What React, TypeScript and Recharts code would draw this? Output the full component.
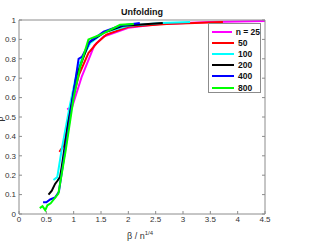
import { LineChart, Line, XAxis, YAxis } from "recharts";

// each series: [beta / n^(1/4), probability]
const n25: [number, number][] = [
  [0.88, 0.54], [0.97, 0.55], [1.15, 0.71], [1.38, 0.87], [1.55, 0.915],
  [2.0, 0.96], [2.6, 0.98], [3.5, 0.99], [4.5, 0.995],
];
const n50: [number, number][] = [
  [0.74, 0.32], [0.81, 0.35], [0.96, 0.57], [1.1, 0.72], [1.27, 0.83],
  [1.42, 0.88], [1.6, 0.925], [2.0, 0.965], [2.7, 0.98], [3.73, 0.99],
];
const n100: [number, number][] = [
  [0.63, 0.175], [0.7, 0.19], [0.78, 0.33], [0.93, 0.56], [1.08, 0.76],
  [1.3, 0.88], [1.55, 0.935], [2.0, 0.97], [2.6, 0.985], [3.13, 0.99],
];
const n200: [number, number][] = [
  [0.54, 0.1], [0.6, 0.12], [0.66, 0.155], [0.7, 0.17], [0.75, 0.19],
  [0.78, 0.24], [0.9, 0.47], [1.05, 0.71], [1.28, 0.885], [1.55, 0.935],
  [1.9, 0.97], [2.63, 0.985],
];
const n400: [number, number][] = [
  [0.44, 0.06], [0.5, 0.06], [0.57, 0.075], [0.66, 0.085], [0.73, 0.115],
  [0.87, 0.38], [1.09, 0.8], [1.15, 0.81], [1.3, 0.89], [1.55, 0.94],
  [1.85, 0.97], [2.21, 0.985],
];
const n800: [number, number][] = [
  [0.38, 0.03], [0.43, 0.04], [0.48, 0.02], [0.52, 0.045], [0.58, 0.055],
  [0.72, 0.105], [0.85, 0.32], [1.0, 0.6], [1.12, 0.76], [1.27, 0.9],
  [1.5, 0.925], [1.85, 0.975], [2.1, 0.98],
];

const seriesNames = ["n = 25", "50", "100", "200", "400", "800"];
const seriesColors = ["#ff00ff", "#ff0000", "#00ffff", "#000000", "#0000ff", "#00ff00"];
const allSeries = [n25, n50, n100, n200, n400, n800];

const xTicks = [0, 0.5, 1, 1.5, 2, 2.5, 3, 3.5, 4, 4.5];
const yTicks = [0, 0.1, 0.2, 0.3, 0.4, 0.5, 0.6, 0.7, 0.8, 0.9, 1];

const FONT = "'Liberation Sans', Arial, sans-serif";
const AXIS = "#8c8c8c";
const tickStyle = { fontSize: 8, fill: "#333", fontFamily: FONT };

const LegendBox = () => (
  <div
    style={{
      position: "absolute",
      left: 208,
      top: 23,
      border: `1px solid ${AXIS}`,
      background: "#fff",
      width: 53,
      height: 70,
      boxSizing: "border-box",
      padding: "2px 0 0 3px",
      fontFamily: FONT,
      fontSize: 8.5,
      fontWeight: 600,
      color: "#111",
    }}
  >
    {seriesNames.map((name, i) => (
      <div key={name} style={{ display: "flex", alignItems: "center", height: 11.2, whiteSpace: "nowrap" }}>
        <div style={{ width: 22, height: 2, background: seriesColors[i], marginRight: 4 }} />
        <span>{name}</span>
      </div>
    ))}
  </div>
);

export default function App() {
  return (
    <div style={{ position: "absolute", left: 0, top: 0, width: 314, height: 242, background: "#fff" }}>
      <LineChart width={314} height={242} margin={{ top: 19, right: 48, bottom: 27, left: 18 }}>
        <XAxis
          type="number"
          dataKey="0"
          domain={[0, 4.5]}
          ticks={xTicks}
          tickFormatter={(v) => String(v)}
          stroke={AXIS}
          tick={tickStyle}
          tickSize={-3}
          tickMargin={5}
          height={1}
          allowDataOverflow
        />
        <XAxis
          xAxisId="top"
          orientation="top"
          type="number"
          domain={[0, 4.5]}
          ticks={xTicks}
          tickFormatter={() => ""}
          stroke={AXIS}
          tickSize={-3}
          height={1}
          allowDataOverflow
        />
        <YAxis
          type="number"
          domain={[0, 1]}
          ticks={yTicks}
          tickFormatter={(v) => String(v)}
          stroke={AXIS}
          tick={tickStyle}
          tickSize={-3}
          tickMargin={6}
          width={1}
          allowDataOverflow
        />
        <YAxis
          yAxisId="right"
          orientation="right"
          type="number"
          domain={[0, 1]}
          ticks={yTicks}
          tickFormatter={() => ""}
          stroke={AXIS}
          tickSize={-3}
          width={1}
          allowDataOverflow
        />
        {allSeries.map((s, i) => (
          <Line
            key={seriesNames[i]}
            data={s}
            dataKey="1"
            name={seriesNames[i]}
            stroke={seriesColors[i]}
            strokeWidth={2}
            dot={false}
            type="linear"
            isAnimationActive={false}
          />
        ))}
      </LineChart>
      <LegendBox />
      <div
        style={{
          position: "absolute", left: 92, width: 100, top: 7, textAlign: "center",
          fontFamily: FONT, fontSize: 9, fontWeight: "bold", color: "#111",
        }}
      >
        Unfolding
      </div>
      <div
        style={{
          position: "absolute", left: 90, width: 100, top: 230, textAlign: "center",
          fontFamily: FONT, fontSize: 9, color: "#333",
        }}
      >
        β / n<sup style={{ fontSize: 6 }}>1/4</sup>
      </div>
      <div
        style={{
          position: "absolute", left: -3, top: 114, transform: "rotate(-90deg)",
          fontFamily: FONT, fontSize: 9, color: "#333",
        }}
      >
        p
      </div>
    </div>
  );
}
